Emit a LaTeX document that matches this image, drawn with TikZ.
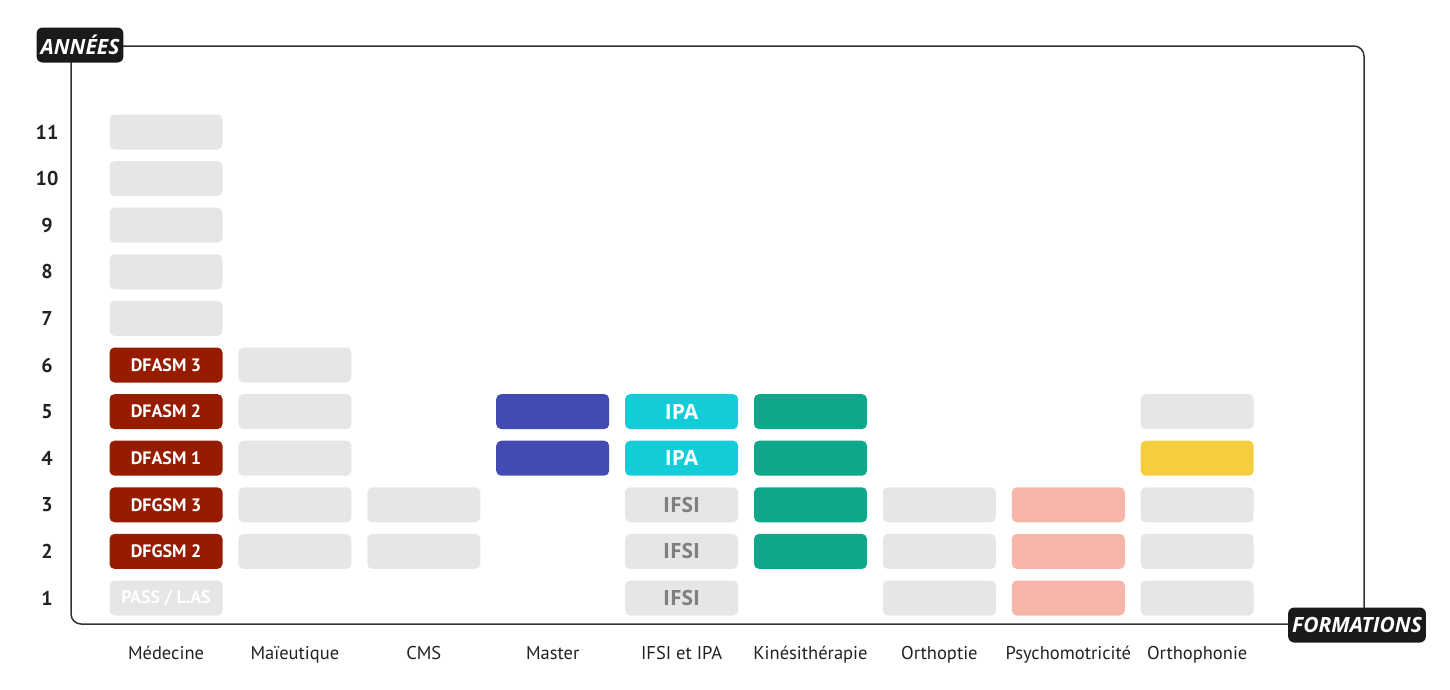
\documentclass[tikz,border=0pt]{standalone}
\usepackage{fontspec}
\setmainfont{PT Sans}
\newfontfamily\opensans{Open Sans}
\usetikzlibrary{positioning}

\definecolor{boxgray}{HTML}{E6E6E6}
\definecolor{medred}{HTML}{961C00}
\definecolor{masterblue}{HTML}{434BB3}
\definecolor{ipacyan}{HTML}{12CDD7}
\definecolor{kinegreen}{HTML}{0DA88A}
\definecolor{orthoyellow}{HTML}{F5CE3F}
\definecolor{psysalmon}{HTML}{F8B6A8}
\definecolor{ifsigray}{HTML}{7F7F7F}
\definecolor{labelblack}{HTML}{1A1A1A}
\definecolor{axisgray}{HTML}{333333}
\definecolor{textdark}{HTML}{222222}

\begin{document}
\begin{tikzpicture}[x=1pt,y=-1pt]
    \tikzstyle{year}=[rectangle,rounded corners=5pt,minimum width=113pt,minimum height=35pt,inner sep=0pt,font=\fontsize{18}{18}\selectfont\bfseries]
    \tikzstyle{empty year}=[year,fill=boxgray]
    \tikzstyle{med year}=[year,fill=medred,text=white]
    \tikzstyle{master year}=[year,fill=masterblue]
    \tikzstyle{ipa year}=[year,fill=ipacyan,text=white,font=\opensans\fontsize{21}{21}\selectfont\bfseries]
    \tikzstyle{ifsi year}=[year,fill=boxgray,text=ifsigray,font=\opensans\fontsize{21}{21}\selectfont\bfseries]
    \tikzstyle{kine year}=[year,fill=kinegreen]
    \tikzstyle{ortho year}=[year,fill=orthoyellow]
    \tikzstyle{psy year}=[year,fill=psysalmon]
    \tikzstyle{year num}=[text=textdark,font=\fontsize{20}{20}\selectfont\bfseries]
    \tikzstyle{formation}=[text=textdark,text height=1.4ex,text depth=0pt,inner sep=0pt,font=\fontsize{18.5}{18.5}\selectfont]
    \tikzstyle{axis label}=[fill=labelblack,text=white,rounded corners=6pt,minimum height=35pt,inner xsep=4pt,inner ysep=0pt,font=\opensans\fontsize{21}{21}\selectfont\bfseries\itshape]
    \def\colsep{128.9}
    \def\rowsep{46.6}

    \useasboundingbox (0,0) rectangle (1450,689);

    % Frame of the chart
    \draw[axisgray,line width=1.5pt,rounded corners=10pt] (71,46) rectangle (1364,624);

    % Axis labels
    \node[axis label] (annees) at (80,45) {ANNÉES};
    \node[axis label] (formations) at (1357,625) {FORMATIONS};

    % Year numbers
    \foreach \r in {1,...,11}
        \node[year num] (num-\r) at (47,{598-(\r-1)*\rowsep}) {\r};

    % Formation names
    \foreach \c/\name/\txt in {1/med/Médecine,2/mai/Maïeutique,3/cms/CMS,4/mst/Master,
        5/ifsi/IFSI et IPA,6/kine/Kinésithérapie,7/orthopt/Orthoptie,
        8/psy/Psychomotricité,9/orthoph/Orthophonie}
        \node[formation] (lbl-\name) at ({166+(\c-1)*\colsep},656) {\txt};

    % Médecine
    \node[empty year,text=white] (med-1) at (lbl-med |- num-1) {PASS / L.AS};
    \foreach \r/\txt in {2/DFGSM 2,3/DFGSM 3,4/DFASM 1,5/DFASM 2,6/DFASM 3}
        \node[med year] (med-\r) at (lbl-med |- num-\r) {\txt};
    \foreach \r in {7,...,11}
        \node[empty year] (med-\r) at (lbl-med |- num-\r) {};

    % Maïeutique
    \foreach \r in {2,...,6}
        \node[empty year] (mai-\r) at (lbl-mai |- num-\r) {};

    % CMS
    \foreach \r in {2,3}
        \node[empty year] (cms-\r) at (lbl-cms |- num-\r) {};

    % Master
    \foreach \r in {4,5}
        \node[master year] (mst-\r) at (lbl-mst |- num-\r) {};

    % IFSI et IPA
    \foreach \r in {1,2,3}
        \node[ifsi year] (ifsi-\r) at (lbl-ifsi |- num-\r) {IFSI};
    \foreach \r in {4,5}
        \node[ipa year] (ifsi-\r) at (lbl-ifsi |- num-\r) {IPA};

    % Kinésithérapie
    \foreach \r in {2,...,5}
        \node[kine year] (kine-\r) at (lbl-kine |- num-\r) {};

    % Orthoptie
    \foreach \r in {1,2,3}
        \node[empty year] (orthopt-\r) at (lbl-orthopt |- num-\r) {};

    % Psychomotricité
    \foreach \r in {1,2,3}
        \node[psy year] (psy-\r) at (lbl-psy |- num-\r) {};

    % Orthophonie
    \foreach \r in {1,2,3,5}
        \node[empty year] (orthoph-\r) at (lbl-orthoph |- num-\r) {};
    \node[ortho year] (orthoph-4) at (lbl-orthoph |- num-4) {};

\end{tikzpicture}
\end{document}
